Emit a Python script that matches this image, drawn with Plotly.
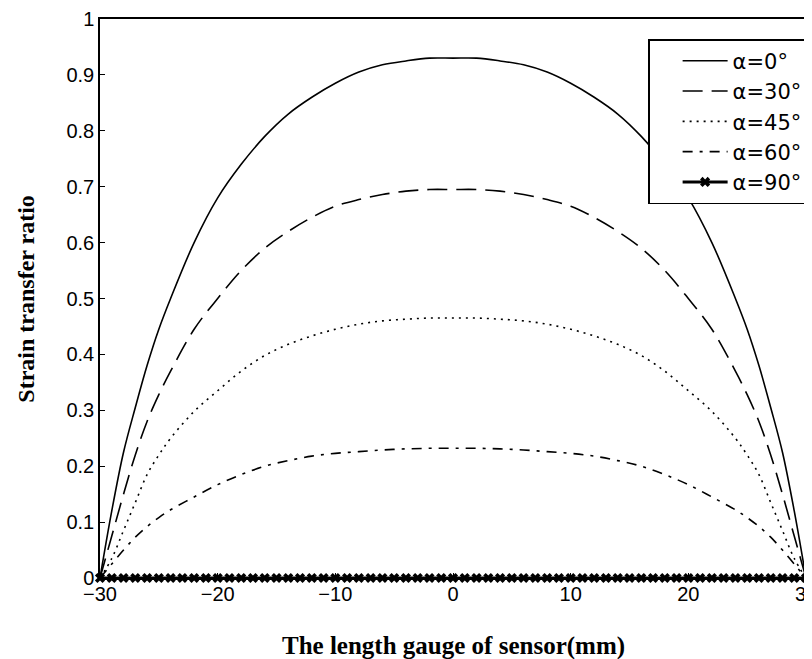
import plotly.graph_objects as go

# positions along the gauge (mm)
x_pos = [-30, -29, -28, -27, -26, -25, -24, -22, -20, -18, -16, -14, -12, -10, -8, -6, -4, -2, 0,
         2, 4, 6, 8, 10, 12, 14, 16, 18, 20, 22, 24, 25, 26, 27, 28, 29, 30]

# strain transfer ratio
ratio_0 = [0, 0.12, 0.225, 0.305, 0.38, 0.445, 0.50, 0.60, 0.68, 0.74, 0.79, 0.83, 0.86, 0.885, 0.905, 0.918, 0.925, 0.93, 0.93,
           0.93, 0.925, 0.918, 0.905, 0.885, 0.86, 0.83, 0.79, 0.74, 0.68, 0.60, 0.50, 0.445, 0.38, 0.305, 0.225, 0.12, 0]
ratio_30 = [0, 0.075, 0.15, 0.22, 0.28, 0.328, 0.37, 0.445, 0.50, 0.55, 0.59, 0.62, 0.645, 0.665, 0.677, 0.686, 0.692, 0.695, 0.695,
            0.695, 0.692, 0.686, 0.677, 0.665, 0.645, 0.62, 0.59, 0.55, 0.50, 0.445, 0.37, 0.328, 0.28, 0.22, 0.15, 0.075, 0]
ratio_45 = [0, 0.035, 0.085, 0.135, 0.185, 0.22, 0.25, 0.298, 0.335, 0.37, 0.398, 0.418, 0.433, 0.445, 0.454, 0.46, 0.463, 0.465, 0.465,
            0.465, 0.463, 0.46, 0.454, 0.445, 0.433, 0.418, 0.398, 0.37, 0.335, 0.298, 0.25, 0.22, 0.185, 0.135, 0.085, 0.035, 0]
ratio_60 = [0, 0.025, 0.05, 0.073, 0.092, 0.108, 0.122, 0.145, 0.167, 0.185, 0.20, 0.21, 0.218, 0.223, 0.226, 0.229, 0.231, 0.232, 0.232,
            0.232, 0.231, 0.229, 0.226, 0.223, 0.218, 0.21, 0.20, 0.185, 0.167, 0.145, 0.122, 0.108, 0.092, 0.073, 0.05, 0.025, 0]

x_90 = [-30, -29, -28, -27, -26, -25, -24, -23, -22, -21, -20, -19, -18, -17, -16, -15, -14, -13, -12, -11, -10,
        -9, -8, -7, -6, -5, -4, -3, -2, -1, 0, 1, 2, 3, 4, 5, 6, 7, 8, 9, 10,
        11, 12, 13, 14, 15, 16, 17, 18, 19, 20, 21, 22, 23, 24, 25, 26, 27, 28, 29, 30]
ratio_90 = [0, 0, 0, 0, 0, 0, 0, 0, 0, 0, 0, 0, 0, 0, 0, 0, 0, 0, 0, 0, 0,
            0, 0, 0, 0, 0, 0, 0, 0, 0, 0, 0, 0, 0, 0, 0, 0, 0, 0, 0, 0,
            0, 0, 0, 0, 0, 0, 0, 0, 0, 0, 0, 0, 0, 0, 0, 0, 0, 0, 0, 0]

names = ["α=0°", "α=30°", "α=45°", "α=60°", "α=90°"]
x_ticks = [-30, -20, -10, 0, 10, 20, 30]
y_ticks = [0, 0.1, 0.2, 0.3, 0.4, 0.5, 0.6, 0.7, 0.8, 0.9, 1]
y_tick_text = ["0", "0.1", "0.2", "0.3", "0.4", "0.5", "0.6", "0.7", "0.8", "0.9", "1"]
x_title = "The length gauge of sensor(mm)"
y_title = "Strain transfer ratio"

fig = go.Figure()
styles = [("solid", ratio_0), ("20px,9px", ratio_30), ("2px,5px", ratio_45), ("10px,7px,3px,7px", ratio_60)]
for (dash, vals), nm in zip(styles, names[:4]):
    fig.add_trace(go.Scatter(x=x_pos, y=vals, mode="lines", name=nm, line_shape="spline",
                             line=dict(color="black", width=1.6, dash=dash)))
fig.add_trace(go.Scatter(x=x_90, y=ratio_90, mode="lines+markers", name=names[4], cliponaxis=False,
                         line=dict(color="black", width=3),
                         marker=dict(symbol="x", size=9, color="black")))

fig.update_layout(
    width=812, height=659,
    margin=dict(l=92, r=14, t=11, b=89),
    paper_bgcolor="white", plot_bgcolor="white",
    font=dict(family="Liberation Sans", color="black"),
    showlegend=True,
    legend=dict(x=1.003, xanchor="right", y=0.964, yanchor="top",
                bordercolor="black", borderwidth=1.5, bgcolor="white",
                font=dict(family="DejaVu Sans", size=21, color="black"),
                itemwidth=45, tracegroupgap=0, indentation=28),
    annotations=[
        dict(text="<b>" + x_title + "</b>", xref="paper", yref="paper", x=0.5, y=-0.122,
             xanchor="center", yanchor="middle", showarrow=False,
             font=dict(family="Liberation Serif", size=25, color="black")),
        dict(text="<b>" + y_title + "</b>", xref="paper", yref="paper", x=-0.106, y=0.5,
             xanchor="center", yanchor="middle", showarrow=False, textangle=-90,
             font=dict(family="Liberation Serif", size=24, color="black")),
    ],
)
fig.update_xaxes(range=[-30, 30], tickvals=x_ticks, ticks="inside", ticklen=5, tickcolor="black",
                 showline=True, linecolor="black", linewidth=1.5, mirror=True, showgrid=False, zeroline=False,
                 automargin=False, ticklabelstandoff=-3,
                 tickfont=dict(size=20, family="Liberation Sans"))
fig.update_yaxes(range=[0, 1], tickvals=y_ticks, ticktext=y_tick_text, ticks="inside", ticklen=5, tickcolor="black",
                 showline=True, linecolor="black", linewidth=1.5, mirror=True, showgrid=False, zeroline=False,
                 automargin=False,
                 tickfont=dict(size=20, family="Liberation Sans"))

fig.write_html("out.html")
